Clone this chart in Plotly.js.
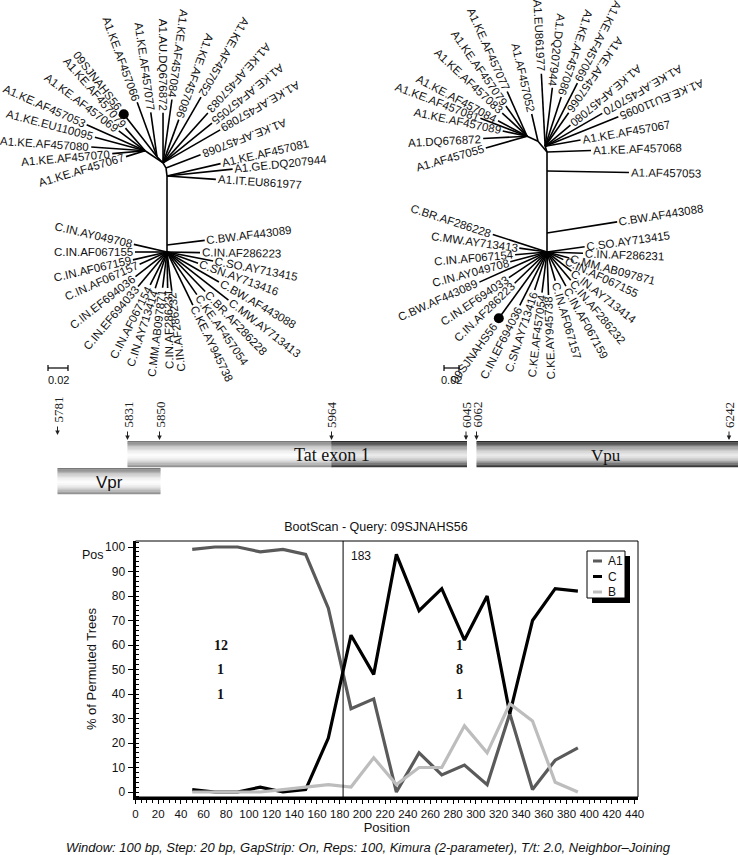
<!DOCTYPE html>
<html><head><meta charset="utf-8">
<script src="https://cdn.plot.ly/plotly-3.0.1.min.js"></script>
<style>body{margin:0;background:#fff}#chart{width:738px;height:855px}</style>
</head><body><div id="chart"></div>
<script>
// ================= DATA =================
// BootScan (query 09SJNAHS56)
const positions = [50,70,90,110,130,150,170,190,210,230,250,270,290,310,330,350,370,390];
const seriesNames = ['A1','C','B'];
const valuesA1 = [99,100,100,98,99,97,75,34,38,0,16,7,11,3,32,1,13,18];
const valuesC  = [1,0,0,2,0,1,22,64,48,97,74,83,62,80,32,70,83,82];
const valuesB  = [0,0,0,0,1,2,3,2,14,3,10,10,27,16,36,29,4,0];
const breakpoint = 183;
const regionCounts = [['12','1','1'],['1','8','1']];
const xTickValues = [0,20,40,60,80,100,120,140,160,180,200,220,240,260,280,300,320,340,360,380,400,420,440];
const yTickValues = [0,10,20,30,40,50,60,70,80,90,100];

// Genome map (HXB2 coordinates)
const genomeTicks = [5781,5831,5850,5964,6045,6062,6242];
const geneNames   = ['Vpr','Tat exon 1','Tat exon 1','Vpu'];
const geneStart   = [5781,5831,5964,6062];
const geneEnd     = [5850,5964,6045,6242];
const geneSubtype = ['A1','A1','C','C'];
const geneLabels  = ['Vpr','Tat exon 1','Vpu'];

// Tree 1 (left): internal nodes and leaves (angle in degrees, branch length in subst./site)
const tree1NodeNames   = ['B1','T1','AR','AM','AT','AL'];
const tree1NodeParents = ['root','B1','T1','AR','AM','AM'];
const tree1NodeAngles  = [90,90,97,120,135,146];
const tree1NodeLengths = [0.007,0.069,0.008,0.006,0.0085,0.0216];
const tree1Leaves = ['C.BW.AF443089','C.IN.AF286223','C.SO.AY713415','C.SN.AY713416','C.BW.AF443088','C.MW.AY713413','C.BR.AF286228','C.KE.AF457054','C.KE.AY945738','C.IN.AF286232','C.IN.AF286231','C.MM.AB097871','C.IN.AY713414','C.IN.AF067154','C.IN.EF694033','C.IN.EF694036','C.IN.AF067157','C.IN.AF067159','C.IN.AF067155','C.IN.AY049708',
  'A1.KE.AF457067','A1.KE.AF457070','A1.KE.AF457080','A1.KE.EU110095','A1.KE.AF457053','A1.KE.AF457069','A1.KE.AF457079','09SJNAHS56','A1.KE.AF457066','A1.KE.AF457077','A1.AU.DQ676872','A1.KE.AF457084','A1.KE.AF457086','A1.KE.AF457052','A1.KE.AF457083','A1.KE.AF457055','A1.KE.AF457089','A1.KE.AF457068','A1.KE.AF457081','A1.GE.DQ207944','A1.IT.EU861977'];
const tree1LeafParents = ['B1','root','root','root','root','root','root','root','root','root','root','root','root','root','root','root','root','root','root','root',
  'AL','AL','AL','AL','AL','AL','AL','AT','AT','AT','AM','AM','AM','AM','AM','AM','AM','AR','T1','T1','T1'];
const tree1LeafAngles = [7,-1,-11,-20,-30,-38,-46,-55,-64,-83,-89,-97,-108,-117,-130,-142,-156,-167,180,167,
  197,185,176,165,156,143,131,128,110,98,90,82,70,60,48,39,30,21,13,6,-4];
const tree1LeafLengths = [0.038,0.033,0.047,0.033,0.060,0.078,0.055,0.052,0.059,0.039,0.036,0.036,0.038,0.037,0.045,0.040,0.030,0.035,0.032,0.034,
  0.020,0.033,0.054,0.052,0.064,0.033,0.030,0.054,0.058,0.045,0.050,0.064,0.046,0.076,0.067,0.063,0.066,0.037,0.055,0.066,0.049];

// Tree 2 (right)
const tree2NodeNames   = ['B2a','B2b','T2','AR2','M2','AL2'];
const tree2NodeParents = ['root','B2a','B2b','T2','T2','M2'];
const tree2NodeAngles  = [90,90,90,108,130,155];
const tree2NodeLengths = [0.0253,0.0827,0.0253,0.008,0.0187,0.016];
const tree2Leaves = ['C.BW.AF443088','C.SO.AY713415','C.IN.AF286231','C.MM.AB097871','C.IN.AF067155','C.IN.AY713414','C.IN.AF286232','C.IN.AF067159','C.IN.AF067157','C.KE.AY945738','C.KE.AF457054','C.SN.AY713416','C.IN.EF694036','09SJNAHS56','C.IN.AF286223','C.IN.EF694033','C.BW.AF443089','C.IN.AY049708','C.IN.AF067154','C.MW.AY713413','C.BR.AF286228',
  'A1.AF457053','A1.KE.AF457068','A1.KE.AF457067','A1.KE.EU110095','A1.KE.AF457070','A1.KE.AF457080','A1.KE.AF457066','A1.KE.AF457069','A1.KE.AF457086','A1.DQ207944','A1.EU861977','A1.AF457052','A1.KE.AF457077','A1.KE.AF457079','A1.KE.AF457083','A1.KE.AF457084','A1.KE.AF457081','A1.KE.AF457089','A1.DQ676872','A1.AF457055'];
const tree2LeafParents = ['B2a','root','root','root','root','root','root','root','root','root','root','root','root','root','root','root','root','root','root','root','root',
  'B2b','T2','AR2','AR2','AR2','AR2','AR2','AR2','AR2','AR2','AR2','M2','AL2','AL2','AL2','AL2','AL2','AL2','AL2','AL2'];
const tree2LeafAngles = [9,8,-2,-15,-25,-38,-50,-61,-74,-88,-97,-108,-117,-126,-136,-146,-156,-165,-175,172,162,
  -1,2,10,22,30,40,55,63,72,83,93,103,114,125,137,152,159,168,183,196];
const tree2LeafLengths = [0.0947,0.0507,0.048,0.0307,0.024,0.0413,0.0493,0.052,0.040,0.0573,0.0547,0.0533,0.080,0.1093,0.060,0.0613,0.0987,0.0507,0.0427,0.0373,0.076,
  0.1093,0.0587,0.048,0.1053,0.088,0.044,0.0547,0.0947,0.0693,0.0787,0.097,0.0373,0.0653,0.0493,0.0453,0.044,0.0667,0.0333,0.0587,0.0573];
const queryName = '09SJNAHS56';
const scaleBarValue = 0.02;

// ================= LAYOUT / STYLE =================
const W = 738, H = 855;
const SANS = 'Liberation Sans, Arial, Helvetica, sans-serif';
const SERIF = 'Liberation Serif, Times New Roman, serif';
const seriesColors = ['#5a5a5a', '#000000', '#bdbdbd'];
const treeFontSize = 11.5;

const cv = document.createElement('canvas').getContext('2d');
function measure(t, size, fam) { cv.font = size + 'px ' + fam; return cv.measureText(t).width; }
function normAngle(a) { a = ((a % 360) + 360) % 360; if (a > 180) a -= 360; return a; }

const traces = [];
const annotations = [];
const shapes = [];

// ---- trees (pixel overlay axes x2/y2) ----
function buildTree(origin, k, nN, nP, nA, nL, lN, lP, lA, lL, barPos) {
  const pos = { root: origin };
  const xs = [], ys = [];
  function place(par, ang, len) {
    const p = pos[par], r = ang * Math.PI / 180;
    return [p[0] + len * k * Math.cos(r), p[1] - len * k * Math.sin(r)];
  }
  nN.forEach((n, i) => {
    pos[n] = place(nP[i], nA[i], nL[i]);
    xs.push(pos[nP[i]][0], pos[n][0], null); ys.push(pos[nP[i]][1], pos[n][1], null);
  });
  let q = null;
  lN.forEach((n, i) => {
    const tip = place(lP[i], lA[i], lL[i]);
    xs.push(pos[lP[i]][0], tip[0], null); ys.push(pos[lP[i]][1], tip[1], null);
    const th = normAngle(lA[i]), r = th * Math.PI / 180;
    const u = [Math.cos(r), -Math.sin(r)];
    const isQ = n === queryName; if (isQ) q = tip;
    const w = measure(n, treeFontSize, 'Liberation Sans');
    const d = (isQ ? 7 : 2) + w / 2;
    const flip = th > 18 || th < -82;
    annotations.push({
      xref: 'x2', yref: 'y2', x: tip[0] + u[0] * d, y: tip[1] + u[1] * d,
      text: n, showarrow: false, xanchor: 'center', yanchor: 'middle',
      textangle: normAngle(-(flip ? th + 180 : th)), borderpad: 0,
      font: { family: SANS, size: treeFontSize, color: '#111' }
    });
  });
  traces.push({ type: 'scatter', mode: 'lines', x: xs, y: ys, xaxis: 'x2', yaxis: 'y2',
    line: { color: '#000', width: 1.6 }, hoverinfo: 'skip', showlegend: false });
  traces.push({ type: 'scatter', mode: 'markers', x: [q[0]], y: [q[1]], xaxis: 'x2', yaxis: 'y2',
    marker: { color: '#000', size: 10 }, hoverinfo: 'skip', showlegend: false });
  // scale bar
  const L = scaleBarValue * k;
  traces.push({ type: 'scatter', mode: 'lines', xaxis: 'x2', yaxis: 'y2', hoverinfo: 'skip', showlegend: false,
    x: [barPos[0], barPos[0] + L, null, barPos[0], barPos[0], null, barPos[0] + L, barPos[0] + L],
    y: [barPos[1], barPos[1], null, barPos[1] - 3, barPos[1] + 3, null, barPos[1] - 3, barPos[1] + 3],
    line: { color: '#000', width: 1.2 } });
  annotations.push({ xref: 'x2', yref: 'y2', x: barPos[0] + L / 2, y: barPos[1] + 12, text: String(scaleBarValue),
    showarrow: false, font: { family: SANS, size: 11, color: '#111' } });
}
buildTree([167, 252], 1000, tree1NodeNames, tree1NodeParents, tree1NodeAngles, tree1NodeLengths,
  tree1Leaves, tree1LeafParents, tree1LeafAngles, tree1LeafLengths, [48, 368]);
buildTree([547, 252], 750, tree2NodeNames, tree2NodeParents, tree2NodeAngles, tree2NodeLengths,
  tree2Leaves, tree2LeafParents, tree2LeafAngles, tree2LeafLengths, [444, 368]);

// ---- genome map (schematic, not to scale) ----
const mapKnotsPx = [57.5, 127.5, 159.5, 331.5, 466, 476.5, 735];
function mapX(g) {
  for (let i = 0; i < genomeTicks.length - 1; i++) {
    if (g <= genomeTicks[i + 1]) {
      const f = (g - genomeTicks[i]) / (genomeTicks[i + 1] - genomeTicks[i]);
      return mapKnotsPx[i] + f * (mapKnotsPx[i + 1] - mapKnotsPx[i]);
    }
  }
  return mapKnotsPx[mapKnotsPx.length - 1];
}
const geneRow = [1, 0, 0, 0];
const rowTop = [441, 468], rowH = 26;
function shade(t, sub) {
  const c0 = 0.55;
  const top = sub === 'C' ? 25 : 110, bot = sub === 'C' ? 40 : 135, mid = sub === 'C' ? 232 : 252;
  let v;
  if (t < c0) v = mid + (top - mid) * Math.pow((c0 - t) / c0, 1.7);
  else v = mid + (bot - mid) * Math.pow((t - c0) / (1 - c0), 1.7);
  v = Math.round(v);
  return 'rgb(' + v + ',' + v + ',' + v + ')';
}
const NB = 20;
geneNames.forEach((g, i) => {
  const x0 = mapX(geneStart[i]), x1 = mapX(geneEnd[i]) + (i === 3 ? 4 : 1);
  const y0 = rowTop[geneRow[i]];
  for (let b = 0; b < NB; b++) {
    shapes.push({ type: 'rect', xref: 'x2', yref: 'y2', x0: x0, x1: x1,
      y0: y0 + rowH * b / NB, y1: y0 + rowH * (b + 1) / NB + 0.3,
      line: { width: 0 }, fillcolor: shade((b + 0.5) / NB, geneSubtype[i]), layer: 'below' });
  }
});
const geneLabelAt = [5818, 5964, 6152];
const geneLabelRow = [1, 0, 0];
const geneLabelFont = [
  { family: 'Liberation Sans Narrow, Arial Narrow, Liberation Sans, sans-serif', size: 17, color: '#111' },
  { family: SERIF, size: 18, color: '#111' },
  { family: SERIF, size: 17, color: '#111' }];
geneLabels.forEach((t, i) => {
  annotations.push({ xref: 'x2', yref: 'y2', x: mapX(geneLabelAt[i]), y: rowTop[geneLabelRow[i]] + rowH / 2 + 1,
    text: t, showarrow: false, xanchor: 'center', yanchor: 'middle', font: geneLabelFont[i] });
});
genomeTicks.forEach((g, i) => {
  const gx = Math.min(mapX(g), 729);
  const tipY = i === 0 ? 435 : 440;
  // arrow pointing down to the gene bar
  annotations.push({ xref: 'x2', yref: 'y2', x: gx, y: tipY, ax: 0, ay: -10, text: '',
    showarrow: true, arrowhead: 2, arrowsize: 0.9, arrowwidth: 1, arrowcolor: '#222' });
  // coordinate number, rotated
  annotations.push({ xref: 'x2', yref: 'y2', x: gx, y: tipY - 11,
    text: String(g), showarrow: false, textangle: -90, xanchor: 'center', yanchor: 'bottom', borderpad: 0,
    font: { family: SERIF, size: 13, color: '#222' } });
});

// ---- bootscan plot ----
const seriesValues = [valuesA1, valuesC, valuesB];
seriesNames.forEach((nm, i) => {
  traces.push({ type: 'scatter', mode: 'lines', name: nm, x: positions, y: seriesValues[i],
    line: { color: seriesColors[i], width: 3.2 }, showlegend: false, xaxis: 'x', yaxis: 'y' });
});
shapes.push({ type: 'line', xref: 'x', yref: 'y domain', x0: breakpoint, x1: breakpoint, y0: 0, y1: 1,
  line: { color: '#000', width: 1 } });
shapes.push({ type: 'rect', xref: 'x domain', yref: 'y domain', x0: 0, x1: 1, y0: 0, y1: 1,
  line: { color: '#000', width: 1 } });
annotations.push({ xref: 'x', yref: 'y', x: breakpoint, xshift: 6, y: 96.5, xanchor: 'left', text: String(breakpoint),
  showarrow: false, font: { family: SANS, size: 12, color: '#111' } });
const regionX = [75, 286], regionY = [60, 50, 40];
regionCounts.forEach((arr, r) => arr.forEach((t, j) => {
  annotations.push({ xref: 'x', yref: 'y', x: regionX[r], y: regionY[j], text: '<b>' + t + '</b>',
    showarrow: false, font: { family: SERIF, size: 14, color: '#111' } });
}));
annotations.push({ xref: 'x2', yref: 'y2', x: 93, y: 555, text: 'Pos', showarrow: false,
  font: { family: SANS, size: 12.5, color: '#111' } });
annotations.push({ xref: 'x2', yref: 'y2', x: 368, y: 847,
  text: '<i>Window: 100 bp, Step: 20 bp, GapStrip: On, Reps: 100, Kimura (2-parameter), T/t: 2.0, Neighbor\u2013Joining</i>',
  showarrow: false, font: { family: SANS, size: 13, color: '#111' } });

// custom legend (box + shadow)
shapes.push({ type: 'rect', xref: 'x2', yref: 'y2', x0: 592, x1: 630, y0: 556, y1: 603, fillcolor: '#000', line: { width: 0 } });
shapes.push({ type: 'rect', xref: 'x2', yref: 'y2', x0: 587, x1: 625, y0: 551, y1: 598, fillcolor: '#fff', line: { color: '#000', width: 1 } });
seriesNames.forEach((nm, i) => {
  const yy = 561 + i * 15.5;
  shapes.push({ type: 'line', xref: 'x2', yref: 'y2', x0: 593, x1: 602, y0: yy, y1: yy, line: { color: seriesColors[i], width: 3 } });
  annotations.push({ xref: 'x2', yref: 'y2', x: 606, y: yy, xanchor: 'left', yanchor: 'middle', text: nm,
    showarrow: false, font: { family: SANS, size: 12, color: '#111' } });
});

const layout = {
  width: W, height: H, margin: { l: 0, r: 0, t: 0, b: 0 },
  paper_bgcolor: '#fff', plot_bgcolor: 'rgba(0,0,0,0)', showlegend: false,
  title: { text: 'BootScan - Query: 09SJNAHS56', x: 376 / W, y: 1 - 527 / H, xanchor: 'center', yanchor: 'middle',
    font: { family: SANS, size: 12.5, color: '#111' } },
  xaxis: { domain: [135.5 / W, 638 / W], range: [0, 443], anchor: 'y',
    tickvals: xTickValues, ticktext: xTickValues.map(String), ticks: 'outside', ticklen: 4, tickwidth: 1, tickcolor: '#000',
    showline: true, linewidth: 3, linecolor: '#000', showgrid: false, zeroline: false,
    minor: { dtick: 5, ticks: 'outside', ticklen: 3, tickcolor: '#000', tickwidth: 1, showgrid: false },
    tickfont: { family: SANS, size: 11.5, color: '#111' },
    title: { text: 'Position', standoff: 4, font: { family: SANS, size: 13, color: '#111' } } },
  yaxis: { domain: [(H - 797) / H, (H - 541) / H], range: [-2.04, 102.45], anchor: 'x',
    tickvals: yTickValues, ticks: 'outside', ticklen: 5, tickwidth: 1, tickcolor: '#000',
    showline: true, linewidth: 3, linecolor: '#000', showgrid: false, zeroline: false,
    minor: { dtick: 2, ticks: 'inside', ticklen: 3, tickcolor: '#000', tickwidth: 1, showgrid: false },
    tickfont: { family: SANS, size: 12, color: '#111' },
    title: { text: '% of Permuted Trees', standoff: 6, font: { family: SANS, size: 13, color: '#111' } } },
  xaxis2: { domain: [0, 1], range: [0, W], anchor: 'y2', visible: false, fixedrange: true },
  yaxis2: { domain: [0, 1], range: [H, 0], anchor: 'x2', visible: false, fixedrange: true },
  annotations: annotations, shapes: shapes
};
Plotly.newPlot('chart', traces, layout, { staticPlot: true, displayModeBar: false });
</script></body></html>
